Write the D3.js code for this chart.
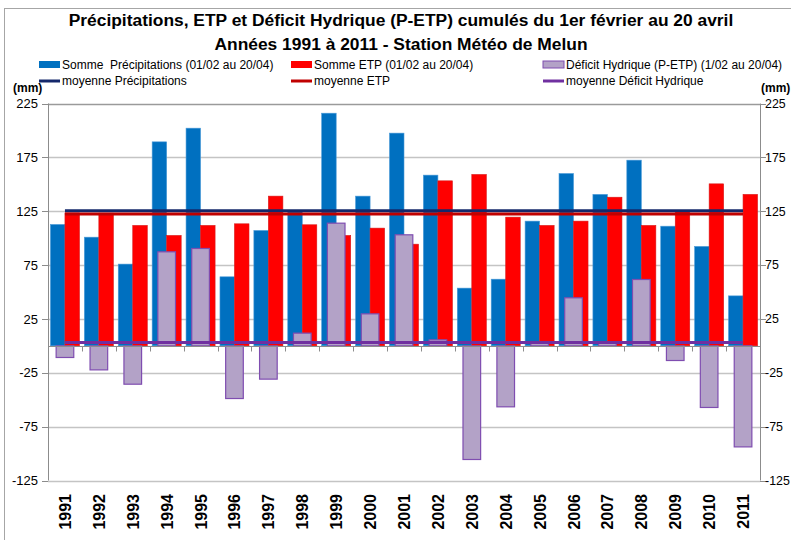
<!DOCTYPE html>
<html>
<head>
<meta charset="utf-8">
<script src="https://cdn.jsdelivr.net/npm/d3@7/dist/d3.min.js"></script>
<style>
  html, body { margin: 0; padding: 0; background: #fff; }
  svg { display: block; font-family: "Liberation Sans", Arial, sans-serif; }
  .lgtext { white-space: pre; }
</style>
</head>
<body>
<svg id="chart" width="791" height="540"></svg>
<script>
// ---- Data ----
const years = ["1991","1992","1993","1994","1995","1996","1997","1998","1999","2000",
               "2001","2002","2003","2004","2005","2006","2007","2008","2009","2010","2011"];
const precipitations = [112.7,100.9,75.9,189.4,202.1,64.1,107.1,125.0,216.0,139.0,
                        197.5,158.5,53.6,61.9,115.8,160.0,140.6,172.4,111.1,92.3,46.4];
const etp = [123.4,123.2,111.8,102.5,111.8,113.3,139.0,112.4,102.5,109.3,
             94.4,153.2,159.1,119.5,111.8,115.8,138.0,111.8,124.7,150.4,140.6];
const deficit = [-10.8,-22.3,-35.6,87.3,90.4,-48.9,-30.9,11.8,113.9,29.7,
                 103.1,5.6,-105.5,-56.6,4.0,44.6,2.5,61.6,-13.6,-57.2,-93.8];
const moyennePrecipitations = 125.4;
const moyenneETP = 122.3;
const moyenneDeficit = 3.2;
const yTicks = [225,175,125,75,25,-25,-75,-125];

const titleLines = ["Précipitations, ETP et Déficit Hydrique (P-ETP) cumulés du 1er février au 20 avril",
                    "Années 1991 à 2011 - Station Météo de Melun"];

// ---- Layout ----
const svg = d3.select("#chart");
const plotL = 48, plotR = 760, plotT = 103.5, plotB = 480.5;

const x = d3.scaleBand().domain(years).range([plotL, plotR]).paddingInner(0).paddingOuter(0);
const y = d3.scaleLinear().domain([-125, 225]).range([plotB, plotT]);
const y2 = d3.scaleLinear().domain([-125, 225]).range([plotB, plotT]);

const bw = x.bandwidth();
const barW = bw * 0.428;
const gapHalf = (bw - 2 * barW) / 2;
const defW = bw * 0.52;

// outer frame
svg.append("rect").attr("x", 4.5).attr("y", 8.5).attr("width", 820).attr("height", 600)
  .attr("fill", "none").attr("stroke", "#a6a6a6").attr("stroke-width", 1);

// title
svg.append("g").selectAll("text").data(titleLines).join("text")
  .attr("x", 401).attr("y", (d, i) => i === 0 ? 26 : 50)
  .attr("text-anchor", "middle").attr("font-weight", "bold").attr("font-size", 17.4)
  .attr("fill", "#000").text(d => d);

// gridlines
svg.append("g").selectAll("line").data(yTicks).join("line")
  .attr("x1", plotL).attr("x2", plotR)
  .attr("y1", d => Math.round(y(d)) + 0.5).attr("y2", d => Math.round(y(d)) + 0.5)
  .attr("stroke", d => d === 225 ? "#9a9a9a" : "#c4c4c4").attr("stroke-width", 1.3);

// primary bars
const gBars = svg.append("g");
gBars.selectAll("rect.p").data(precipitations).join("rect").attr("class", "p")
  .attr("x", (d, i) => x(years[i]) + gapHalf)
  .attr("width", barW)
  .attr("y", d => y(Math.max(0, d)))
  .attr("height", d => Math.abs(y(d) - y(0)))
  .attr("fill", "#0070C0").attr("stroke", "#4a9ad8").attr("stroke-width", 0.6);
gBars.selectAll("rect.e").data(etp).join("rect").attr("class", "e")
  .attr("x", (d, i) => x(years[i]) + gapHalf + barW)
  .attr("width", barW)
  .attr("y", d => y(Math.max(0, d)))
  .attr("height", d => Math.abs(y(d) - y(0)))
  .attr("fill", "#FF0000").attr("stroke", "#d81818").attr("stroke-width", 0.6);

// secondary bars (deficit)
svg.append("g").selectAll("rect").data(deficit).join("rect")
  .attr("x", (d, i) => x(years[i]) + (bw - defW) / 2)
  .attr("width", defW)
  .attr("y", d => y2(Math.max(0, d)))
  .attr("height", d => Math.abs(y2(d) - y2(0)))
  .attr("fill", "#B3A2C7").attr("stroke", "#7F4DB0").attr("stroke-width", 1.2);

// category axis at zero
const zeroY = Math.round(y(0)) + 0.5;
svg.append("line").attr("x1", plotL).attr("x2", plotR).attr("y1", zeroY).attr("y2", zeroY)
  .attr("stroke", "#8c8c8c").attr("stroke-width", 1);
const boundaries = years.map(d => x(d)).concat([plotR]);
svg.append("g").selectAll("line").data(boundaries).join("line")
  .attr("x1", d => Math.round(d) + 0.5).attr("x2", d => Math.round(d) + 0.5)
  .attr("y1", zeroY).attr("y2", zeroY + 5)
  .attr("stroke", "#8c8c8c").attr("stroke-width", 1);

// mean lines
const firstC = x(years[0]) + bw / 2, lastC = x(years[years.length - 1]) + bw / 2;
const means = [
  {v: moyennePrecipitations, c: "#14286b", sc: y},
  {v: moyenneETP, c: "#C00000", sc: y},
  {v: moyenneDeficit, c: "#7030A0", sc: y2}
];
svg.append("g").selectAll("line").data(means).join("line")
  .attr("x1", firstC).attr("x2", lastC)
  .attr("y1", d => d.sc(d.v)).attr("y2", d => d.sc(d.v))
  .attr("stroke", d => d.c).attr("stroke-width", 3);

// left axis
const axL = svg.append("g");
axL.append("line").attr("x1", plotL + 0.5).attr("x2", plotL + 0.5).attr("y1", plotT).attr("y2", plotB)
  .attr("stroke", "#8c8c8c");
axL.selectAll("line.t").data(yTicks).join("line").attr("class", "t")
  .attr("x1", plotL - 6).attr("x2", plotL)
  .attr("y1", d => Math.round(y(d)) + 0.5).attr("y2", d => Math.round(y(d)) + 0.5)
  .attr("stroke", "#8c8c8c");
axL.selectAll("text").data(yTicks).join("text")
  .attr("x", 38).attr("y", d => y(d) + 4.6)
  .attr("text-anchor", "end").attr("font-size", 13).attr("fill", "#000").text(d => d);

// right axis
const axR = svg.append("g");
axR.append("line").attr("x1", plotR + 0.5).attr("x2", plotR + 0.5).attr("y1", plotT).attr("y2", plotB)
  .attr("stroke", "#8c8c8c");
axR.selectAll("line.t").data(yTicks).join("line").attr("class", "t")
  .attr("x1", plotR).attr("x2", plotR + 6)
  .attr("y1", d => Math.round(y2(d)) + 0.5).attr("y2", d => Math.round(y2(d)) + 0.5)
  .attr("stroke", "#8c8c8c");
axR.selectAll("text").data(yTicks).join("text")
  .attr("x", 765).attr("y", d => y2(d) + 4.4)
  .attr("text-anchor", "start").attr("font-size", 12.4).attr("fill", "#000").text(d => d);

// (mm) labels
svg.append("text").attr("x", 13).attr("y", 92).attr("font-size", 12).attr("font-weight", "bold").text("(mm)");
svg.append("text").attr("x", 761).attr("y", 92).attr("font-size", 12).attr("font-weight", "bold").text("(mm)");

// x labels
svg.append("g").selectAll("text").data(years).join("text")
  .attr("transform", d => `translate(${x(d) + bw / 2 + 6},494) rotate(-90)`)
  .attr("text-anchor", "end").attr("font-size", 16).attr("font-weight", "bold")
  .attr("fill", "#000").text(d => d);

// legend
const legend = [
  {t: "Somme  Précipitations (01/02 au 20/04)", x: 39, row: 0, type: "rect", fill: "#0070C0", stroke: "none"},
  {t: "Somme ETP (01/02 au 20/04)", x: 291, row: 0, type: "rect", fill: "#FF0000", stroke: "none"},
  {t: "Déficit Hydrique (P-ETP) (1/02 au 20/04)", x: 543, row: 0, type: "rect", fill: "#B3A2C7", stroke: "#7F4DB0"},
  {t: "moyenne Précipitations", x: 39, row: 1, type: "line", fill: "#14286b"},
  {t: "moyenne ETP", x: 291, row: 1, type: "line", fill: "#C00000"},
  {t: "moyenne Déficit Hydrique", x: 543, row: 1, type: "line", fill: "#7030A0"}
];
const lg = svg.append("g");
legend.forEach(d => {
  const cy = d.row === 0 ? 64.5 : 81;
  if (d.type === "rect") {
    lg.append("rect").attr("x", d.x).attr("y", cy - 3.5).attr("width", 21).attr("height", 7)
      .attr("fill", d.fill).attr("stroke", d.stroke).attr("stroke-width", 1);
  } else {
    lg.append("line").attr("x1", d.x).attr("x2", d.x + 21).attr("y1", cy).attr("y2", cy)
      .attr("stroke", d.fill).attr("stroke-width", 3);
  }
  lg.append("text").attr("class", "lgtext").attr("x", d.x + 23).attr("y", cy + 4.3).attr("font-size", 12)
    .attr("fill", "#000").text(d.t);
});
</script>
</body>
</html>
